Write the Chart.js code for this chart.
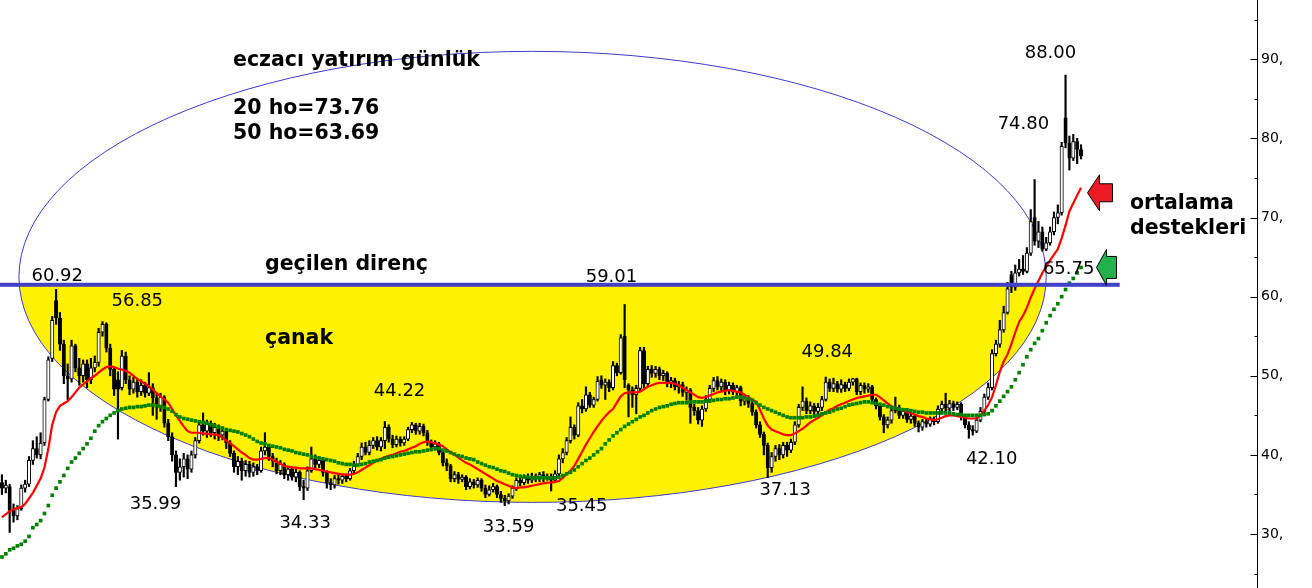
<!DOCTYPE html>
<html>
<head>
<meta charset="utf-8">
<script src="https://cdn.jsdelivr.net/npm/chart.js@4.4.0/dist/chart.umd.min.js"></script>
<style>
  html, body { margin: 0; padding: 0; background: #fff; overflow: hidden; }
  canvas { display: block; }
</style>
</head>
<body>
<canvas id="grafik" width="1312" height="588"></canvas>
<script>
// gunluk mumlar (acilis, yuksek, dusuk, kapanis)
const acilis = [
  36.5, 35.8, 36.0, 33.0, 32.3, 33.2, 35.8, 36.3, 39.3, 40.8,
  40.0, 41.5, 47.0, 52.2, 59.5, 57.3, 54.0, 50.0, 49.6, 53.8,
  51.0, 50.0, 51.5, 49.5, 51.0, 51.7, 55.5, 56.5, 53.5, 50.8,
  49.5, 48.5, 52.5, 49.5, 48.3, 49.2, 48.0, 48.8, 47.8, 48.5,
  47.2, 46.0, 47.3, 44.0, 42.3, 40.0, 37.8, 38.5, 39.5, 38.2,
  40.0, 41.8, 43.8, 43.0, 44.0, 42.8, 43.5, 42.5, 43.0, 41.5,
  40.2, 38.5, 39.2, 38.0, 38.8, 37.8, 38.5, 38.0, 40.5, 41.0,
  39.8, 39.2, 38.0, 38.8, 37.5, 38.2, 37.2, 37.8, 36.0, 35.8,
  38.0, 39.5, 38.8, 39.3, 37.8, 36.5, 36.2, 37.0, 36.8, 37.3,
  37.0, 38.0, 38.8, 39.8, 41.0, 40.3, 41.2, 41.8, 41.0, 41.8,
  43.5, 42.0, 41.3, 42.0, 41.5, 42.0, 43.2, 43.8, 43.0, 43.6,
  42.8, 41.6, 41.0, 41.4, 40.3, 39.0, 38.6, 37.0, 37.5, 36.9,
  37.2, 36.0, 36.6, 36.2, 36.8, 35.8, 35.0, 35.6, 36.0, 35.0,
  34.5, 34.2, 34.8, 35.8, 36.8, 36.5, 37.2, 36.8, 37.3, 37.0,
  37.5, 37.0, 37.3, 36.8, 37.6, 39.5, 40.3, 41.8, 43.5, 42.5,
  46.2, 45.8, 47.6, 46.3, 47.0, 49.5, 48.8, 49.2, 48.5, 51.3,
  50.4, 55.0, 48.8, 48.2, 47.6, 48.4, 53.2, 49.0, 50.8, 50.3,
  50.8, 50.0, 50.3, 49.0, 49.4, 48.6, 48.9, 47.9, 48.2, 46.0,
  45.6, 44.4, 45.8, 47.0, 48.4, 49.4, 48.6, 49.2, 48.2, 48.8,
  48.0, 48.5, 46.8, 47.2, 46.5, 45.4, 43.8, 42.6, 41.2, 38.4,
  39.8, 40.8, 40.0, 41.2, 40.6, 41.6, 43.8, 46.0, 46.8, 45.6,
  46.2, 45.5, 46.0, 47.0, 49.2, 48.4, 49.0, 48.3, 48.9, 48.4,
  49.2, 49.6, 48.0, 48.8, 48.3, 48.6, 47.0, 46.2, 44.8, 43.8,
  44.4, 45.6, 46.0, 45.0, 45.5, 44.5, 44.9, 44.0, 43.5, 44.2,
  43.9, 44.5, 44.2, 45.8, 46.4, 45.9, 46.5, 46.0, 46.4, 44.8,
  43.8, 43.2, 43.0, 44.4, 45.5, 47.3, 48.5, 52.8, 54.0, 55.8,
  58.0, 62.8, 61.2, 63.0, 63.5, 63.2, 65.5, 70.0, 67.0, 68.2,
  66.0, 66.8, 68.2, 70.0, 70.6, 82.6, 79.4, 77.5, 79.6, 78.6
];
const yuksek = [
  37.5, 36.8, 36.3, 33.8, 33.6, 36.2, 36.8, 39.8, 41.8, 42.3,
  42.8, 47.3, 52.4, 57.5, 60.92, 58.0, 54.5, 51.5, 54.5, 54.0,
  52.2, 52.0, 52.0, 52.2, 52.5, 56.0, 56.85, 56.7, 54.0, 51.2,
  50.5, 53.2, 53.0, 50.0, 49.8, 49.6, 49.5, 49.2, 50.4, 49.0,
  47.8, 47.8, 47.5, 44.5, 42.8, 40.5, 39.5, 40.2, 40.0, 40.5,
  42.2, 44.2, 45.3, 44.4, 44.3, 44.0, 43.8, 43.4, 43.2, 41.8,
  40.5, 39.8, 39.6, 39.3, 39.2, 39.0, 38.8, 41.0, 42.8, 41.3,
  40.2, 39.6, 39.3, 39.0, 38.6, 38.5, 38.2, 38.0, 36.8, 38.5,
  41.0, 40.0, 39.8, 39.6, 38.0, 37.0, 37.4, 37.5, 37.6, 37.6,
  38.3, 39.2, 40.2, 41.5, 41.6, 41.8, 42.2, 42.3, 42.2, 44.22,
  43.8, 42.5, 42.4, 42.3, 42.3, 43.5, 44.1, 44.0, 44.0, 43.9,
  43.1, 41.9, 41.8, 41.6, 40.5, 39.5, 38.8, 37.9, 37.8, 37.5,
  37.4, 37.0, 36.9, 37.1, 37.0, 36.2, 36.1, 36.4, 36.2, 35.4,
  34.9, 35.1, 36.1, 37.1, 37.2, 37.5, 37.6, 37.7, 37.6, 37.8,
  37.9, 37.6, 37.6, 38.0, 40.0, 40.8, 42.2, 44.8, 43.8, 46.6,
  47.0, 48.6, 47.9, 47.3, 49.9, 50.0, 49.6, 49.5, 51.8, 51.6,
  55.2, 59.01, 49.0, 48.6, 48.8, 53.6, 53.6, 51.2, 51.3, 51.2,
  51.1, 50.7, 50.5, 49.8, 49.7, 49.3, 49.2, 48.6, 48.4, 46.4,
  46.0, 46.2, 47.5, 48.8, 49.8, 49.9, 49.6, 49.5, 49.2, 49.1,
  48.8, 48.7, 47.6, 47.5, 46.8, 45.7, 44.2, 42.9, 41.5, 40.3,
  41.2, 41.3, 41.6, 41.6, 42.0, 44.2, 46.4, 48.6, 47.2, 46.7,
  46.5, 46.5, 47.4, 49.84, 49.6, 49.7, 49.3, 49.5, 49.2, 49.6,
  49.7, 49.7, 49.1, 49.1, 49.0, 48.8, 47.2, 46.4, 45.1, 44.8,
  46.0, 47.3, 46.3, 45.9, 45.8, 45.3, 45.1, 44.3, 44.5, 44.5,
  44.8, 44.8, 46.2, 46.8, 47.8, 46.9, 46.8, 46.7, 46.6, 45.1,
  44.2, 43.7, 44.8, 46.0, 47.7, 49.1, 53.3, 54.5, 57.0, 58.8,
  61.8, 63.2, 64.0, 64.7, 65.2, 66.2, 71.0, 74.8, 69.5, 68.8,
  67.5, 68.8, 70.7, 71.6, 79.5, 88.0, 80.3, 80.5, 80.0, 79.2
];
const dusuk = [
  35.0, 35.2, 30.2, 31.5, 31.8, 33.0, 35.3, 36.0, 38.8, 39.6,
  39.5, 41.2, 46.8, 51.8, 56.5, 53.2, 49.0, 47.0, 49.2, 50.5,
  48.8, 49.2, 48.5, 49.0, 50.5, 51.2, 55.0, 53.0, 50.0, 47.5,
  42.0, 48.2, 49.0, 47.6, 47.8, 47.3, 47.5, 47.3, 47.5, 45.0,
  44.5, 45.5, 43.5, 41.8, 39.2, 35.99, 36.8, 37.2, 37.0, 37.8,
  39.6, 41.5, 42.5, 42.2, 42.3, 42.0, 41.8, 41.9, 40.8, 39.8,
  37.8, 37.5, 36.8, 37.3, 37.2, 37.3, 37.5, 37.8, 40.0, 39.3,
  38.5, 37.6, 37.5, 37.0, 36.8, 36.8, 36.6, 35.5, 34.33, 35.5,
  37.8, 38.3, 38.4, 37.3, 35.8, 35.6, 35.8, 36.3, 36.4, 36.6,
  36.8, 37.6, 38.5, 39.4, 40.0, 40.0, 40.8, 40.6, 40.5, 40.8,
  41.6, 40.9, 41.0, 41.1, 41.2, 41.8, 42.8, 42.6, 42.6, 42.4,
  41.2, 40.5, 40.6, 40.0, 38.6, 38.0, 36.6, 36.6, 36.4, 36.6,
  35.6, 35.7, 35.8, 35.9, 35.4, 34.6, 34.8, 35.3, 34.6, 34.0,
  33.59, 33.8, 34.5, 35.5, 36.1, 36.2, 36.4, 36.5, 36.6, 36.6,
  36.6, 36.8, 35.45, 36.5, 37.3, 39.0, 40.0, 41.5, 42.0, 42.3,
  45.3, 45.5, 46.0, 46.0, 46.8, 48.4, 47.0, 48.0, 48.2, 50.0,
  50.2, 48.5, 44.8, 46.0, 45.2, 48.0, 48.5, 48.6, 49.8, 49.8,
  49.5, 49.4, 48.6, 48.5, 48.2, 47.8, 47.4, 46.9, 44.0, 45.0,
  43.9, 43.6, 45.5, 46.6, 48.0, 48.2, 48.0, 47.6, 47.7, 47.6,
  47.5, 46.2, 46.3, 46.0, 45.0, 43.4, 42.2, 40.0, 37.13, 37.8,
  39.2, 39.4, 39.6, 39.8, 40.3, 41.3, 43.5, 45.6, 45.2, 45.2,
  44.8, 44.6, 45.6, 46.8, 48.0, 48.0, 47.9, 47.9, 48.0, 48.1,
  48.8, 47.6, 47.6, 47.8, 47.9, 46.6, 45.8, 44.4, 42.8, 43.4,
  44.0, 45.3, 44.6, 44.6, 44.1, 44.0, 43.6, 42.9, 43.1, 43.5,
  43.6, 43.8, 44.0, 45.4, 45.5, 45.5, 45.6, 45.7, 44.4, 43.4,
  42.1, 42.5, 42.8, 44.2, 45.2, 47.0, 48.2, 52.5, 53.6, 55.5,
  57.8, 60.5, 60.8, 62.6, 62.8, 63.0, 65.2, 66.5, 66.2, 65.75,
  65.8, 66.5, 67.8, 69.2, 70.3, 78.8, 76.0, 77.2, 76.8, 77.4
];
const kapanis = [
  35.8, 36.2, 33.0, 32.3, 33.2, 35.8, 36.3, 39.3, 40.8, 40.0,
  41.5, 47.0, 52.0, 57.0, 57.3, 54.0, 50.0, 49.6, 53.8, 51.0,
  50.0, 51.5, 49.5, 51.0, 51.7, 55.5, 56.5, 53.5, 50.8, 48.3,
  48.3, 52.5, 49.5, 48.3, 49.2, 48.0, 48.8, 47.8, 48.5, 47.2,
  46.0, 47.3, 44.0, 42.3, 40.0, 37.8, 38.5, 39.5, 38.2, 40.0,
  41.8, 43.8, 43.0, 44.0, 42.8, 43.5, 42.5, 43.0, 41.5, 40.2,
  38.5, 39.2, 38.0, 38.8, 37.8, 38.5, 38.0, 40.5, 41.0, 39.8,
  39.2, 38.0, 38.8, 37.5, 38.2, 37.2, 37.8, 36.0, 35.8, 38.0,
  39.5, 38.8, 39.3, 37.8, 36.5, 36.2, 37.0, 36.8, 37.3, 37.0,
  38.0, 38.8, 39.8, 41.0, 40.3, 41.2, 41.8, 41.0, 41.8, 43.5,
  42.0, 41.3, 42.0, 41.5, 42.0, 43.2, 43.8, 43.0, 43.6, 42.8,
  41.6, 41.0, 41.4, 40.3, 39.0, 38.6, 37.0, 37.5, 36.9, 37.2,
  36.0, 36.6, 36.2, 36.8, 35.8, 35.0, 35.6, 36.0, 35.0, 34.5,
  34.2, 34.8, 35.8, 36.8, 36.5, 37.2, 36.8, 37.3, 37.0, 37.5,
  37.0, 37.3, 36.8, 37.6, 39.5, 40.3, 41.8, 43.5, 42.5, 46.2,
  45.8, 47.6, 46.3, 47.0, 49.3, 48.8, 49.2, 48.5, 51.3, 50.4,
  54.8, 49.5, 48.2, 47.6, 48.4, 53.2, 49.0, 50.8, 50.3, 50.8,
  50.0, 50.3, 49.0, 49.4, 48.6, 48.9, 47.9, 48.2, 46.0, 45.6,
  44.4, 45.8, 47.0, 48.4, 49.4, 48.6, 49.2, 48.2, 48.8, 48.0,
  48.5, 46.8, 47.2, 46.5, 45.4, 43.8, 42.6, 41.2, 38.4, 39.8,
  40.8, 40.0, 41.2, 40.6, 41.6, 43.8, 46.0, 46.8, 45.6, 46.2,
  45.5, 46.0, 47.0, 49.2, 48.4, 49.0, 48.3, 48.9, 48.4, 49.2,
  49.6, 48.0, 48.8, 48.3, 48.6, 47.0, 46.2, 44.8, 43.8, 44.4,
  45.6, 46.0, 45.0, 45.5, 44.5, 44.9, 44.0, 43.5, 44.2, 43.9,
  44.5, 44.2, 45.8, 46.4, 45.9, 46.5, 46.0, 46.4, 44.8, 43.8,
  43.2, 43.0, 44.4, 45.5, 47.3, 48.5, 52.8, 54.0, 55.8, 58.0,
  61.0, 61.2, 63.0, 63.5, 63.2, 65.5, 69.5, 67.0, 68.2, 66.0,
  66.8, 68.2, 70.0, 70.6, 79.0, 79.4, 77.5, 79.6, 78.6, 77.8
];
// 20 ve 50 gunluk hareketli ortalamalar
const ort20 = [
  32.1, 32.5, 32.9, 33.1, 33.3, 33.4, 33.8, 34.5, 35.2, 36.1,
  37.0, 38.4, 40.8, 43.8, 45.4, 46.2, 46.5, 46.8, 47.3, 47.9,
  48.5, 48.9, 49.3, 49.7, 50.0, 50.4, 50.8, 51.1, 51.2, 51.1,
  50.9, 50.8, 50.6, 50.4, 50.0, 49.6, 49.3, 49.0, 48.7, 48.3,
  47.8, 47.4, 47.0, 46.6, 45.8, 45.0, 44.3, 43.6, 43.0, 42.8,
  42.8, 42.8, 42.7, 42.7, 42.6, 42.6, 42.5, 42.2, 41.8, 41.5,
  41.1, 40.7, 40.3, 40.0, 39.6, 39.4, 39.4, 39.5, 39.6, 39.6,
  39.4, 39.1, 38.9, 38.6, 38.5, 38.4, 38.4, 38.3, 38.3, 38.3,
  38.3, 38.2, 38.1, 38.0, 37.9, 37.8, 37.7, 37.6, 37.5, 37.5,
  37.5, 37.6, 37.8, 38.1, 38.4, 38.7, 39.0, 39.3, 39.5, 39.7,
  39.9, 40.0, 40.2, 40.4, 40.5, 40.7, 40.9, 41.1, 41.4, 41.6,
  41.7, 41.6, 41.5, 41.3, 41.1, 40.7, 40.3, 40.0, 39.7, 39.3,
  39.0, 38.8, 38.5, 38.2, 37.9, 37.6, 37.3, 37.0, 36.7, 36.5,
  36.3, 36.1, 35.9, 35.8, 35.9, 35.9, 36.0, 36.1, 36.2, 36.3,
  36.4, 36.5, 36.5, 36.6, 36.7, 37.1, 37.6, 38.0, 38.6, 39.5,
  40.4, 41.3, 42.1, 42.9, 43.6, 44.3, 44.9, 45.4, 45.8, 46.6,
  47.4, 47.8, 47.9, 47.9, 47.9, 48.0, 48.3, 48.6, 48.8, 49.0,
  49.1, 49.1, 49.1, 49.1, 49.0, 48.8, 48.5, 48.2, 47.9, 47.6,
  47.3, 47.2, 47.3, 47.5, 47.7, 47.9, 48.0, 48.1, 48.2, 48.1,
  48.0, 47.9, 47.6, 47.3, 47.0, 46.7, 45.7, 44.6, 43.7, 43.2,
  43.0, 42.8, 42.6, 42.5, 42.5, 42.7, 43.0, 43.3, 43.7, 44.1,
  44.4, 44.7, 45.0, 45.4, 45.7, 45.9, 46.2, 46.4, 46.6, 46.8,
  47.0, 47.2, 47.3, 47.4, 47.5, 47.6, 47.6, 47.3, 46.9, 46.5,
  46.1, 45.9, 45.7, 45.6, 45.4, 45.3, 45.1, 44.9, 44.8, 44.6,
  44.5, 44.4, 44.5, 44.7, 44.9, 45.0, 45.0, 44.9, 44.8, 44.7,
  44.6, 44.6, 44.6, 45.0, 45.6, 46.3, 47.3, 48.8, 50.5, 51.8,
  52.7, 54.0, 55.5, 56.8, 57.6, 58.6, 59.9, 61.0, 62.0, 63.0,
  63.8, 64.6, 65.3, 66.0, 67.4, 69.0, 70.8, 71.8, 72.8, 73.76
];
const ort50 = [
  27.1, 27.5, 28.0, 28.2, 28.5, 28.7, 29.1, 29.7, 30.8, 31.2,
  31.7, 32.6, 33.6, 34.9, 35.8, 36.6, 37.4, 38.3, 39.1, 39.6,
  40.2, 40.8, 41.4, 42.1, 43.0, 43.7, 44.2, 44.6, 45.0, 45.3,
  45.6, 45.8, 45.9, 46.0, 46.0, 46.1, 46.1, 46.2, 46.3, 46.3,
  46.2, 46.1, 46.0, 45.8, 45.5, 45.1, 44.8, 44.6, 44.5, 44.4,
  44.3, 44.2, 44.1, 44.0, 43.8, 43.7, 43.5, 43.4, 43.2, 43.1,
  43.0, 42.9, 42.7, 42.5, 42.3, 42.0, 41.7, 41.5, 41.4, 41.2,
  41.1, 41.0, 40.9, 40.7, 40.6, 40.5, 40.3, 40.2, 40.1, 40.0,
  39.8, 39.7, 39.6, 39.5, 39.4, 39.3, 39.2, 39.0, 38.9, 38.8,
  38.8, 38.7, 38.7, 38.8, 38.9, 39.1, 39.2, 39.3, 39.4, 39.6,
  39.7, 39.8, 39.9, 40.0, 40.1, 40.2, 40.3, 40.4, 40.4, 40.5,
  40.6, 40.7, 40.8, 40.8, 40.6, 40.5, 40.3, 40.1, 39.9, 39.8,
  39.6, 39.5, 39.4, 39.1, 38.9, 38.7, 38.5, 38.4, 38.2, 38.0,
  37.9, 37.7, 37.5, 37.4, 37.3, 37.2, 37.2, 37.1, 37.1, 37.1,
  37.1, 37.1, 37.1, 37.1, 37.2, 37.4, 37.6, 37.8, 38.1, 38.5,
  38.9, 39.3, 39.6, 40.0, 40.4, 40.8, 41.4, 41.9, 42.4, 42.8,
  43.2, 43.6, 43.9, 44.2, 44.5, 44.8, 45.0, 45.3, 45.6, 45.8,
  46.0, 46.1, 46.2, 46.4, 46.5, 46.6, 46.6, 46.6, 46.7, 46.7,
  46.7, 46.7, 46.8, 46.8, 46.9, 47.0, 47.0, 47.1, 47.1, 47.2,
  47.3, 47.3, 47.2, 47.1, 46.9, 46.6, 46.3, 46.0, 45.8, 45.6,
  45.4, 45.2, 45.0, 44.8, 44.7, 44.7, 44.7, 44.7, 44.8, 44.8,
  44.9, 45.0, 45.2, 45.3, 45.4, 45.6, 45.8, 45.9, 46.1, 46.3,
  46.4, 46.5, 46.6, 46.7, 46.7, 46.6, 46.5, 46.4, 46.3, 46.1,
  46.0, 45.9, 45.8, 45.7, 45.7, 45.6, 45.5, 45.4, 45.4, 45.3,
  45.3, 45.3, 45.3, 45.3, 45.3, 45.3, 45.2, 45.1, 45.1, 45.0,
  45.0, 45.0, 45.0, 45.0, 45.1, 45.2, 45.6, 46.2, 46.8, 47.4,
  48.0, 48.6, 49.5, 50.4, 51.4, 52.4, 53.3, 54.1, 54.7, 55.7,
  56.7, 57.6, 58.4, 59.1, 60.0, 60.9, 61.7, 62.3, 63.0, 63.69
];
const bosGun = 45; // son mumdan sonra bos kalan gun sayisi
const gunler = Array.from({ length: kapanis.length + bosGun }, (_, i) => i + 1);

const eksenDegerleri = [30, 40, 50, 60, 70, 80, 90];
const araCizgiler = [25, 35, 45, 55, 65, 75, 85, 95];
const direncSeviyesi = 61.5;

// tepe/dip notlari (gun sirasi, fiyat)
const notlar = [
  { metin: '60.92', gun: 14.3, fiyat: 62.6 },
  { metin: '56.85', gun: 35.0, fiyat: 59.35 },
  { metin: '35.99', gun: 39.7, fiyat: 33.7 },
  { metin: '34.33', gun: 78.4, fiyat: 31.3 },
  { metin: '44.22', gun: 102.8, fiyat: 48.0 },
  { metin: '33.59', gun: 131.0, fiyat: 30.8 },
  { metin: '35.45', gun: 149.9, fiyat: 33.45 },
  { metin: '59.01', gun: 157.6, fiyat: 62.5 },
  { metin: '37.13', gun: 202.5, fiyat: 35.5 },
  { metin: '49.84', gun: 213.4, fiyat: 53.0 },
  { metin: '42.10', gun: 255.9, fiyat: 39.4 },
  { metin: '74.80', gun: 264.1, fiyat: 81.8 },
  { metin: '88.00', gun: 271.1, fiyat: 90.7 },
  { metin: '65.75', gun: 275.8, fiyat: 63.4 }
];

const basliklar = [
  { metin: 'eczacı yatırım günlük', x: 233, y: 66 },
  { metin: '20 ho=73.76', x: 233, y: 114 },
  { metin: '50 ho=63.69', x: 233, y: 139 },
  { metin: 'geçilen direnç', x: 265, y: 270 },
  { metin: 'çanak', x: 265, y: 344 },
  { metin: 'ortalama', x: 1130, y: 209 },
  { metin: 'destekleri', x: 1130, y: 234 }
];

// canak elipsi (gun ve fiyat cinsinden)
const canak = { gun: 137.2, fiyat: 62.5, yariGun: 132.8, yariFiyat: 28.5 };

function ok(ctx, x, y, renk, basYari, govdeYari, basBoy, govdeBoy) {
  ctx.beginPath();
  ctx.moveTo(x, y);
  ctx.lineTo(x + basBoy, y - basYari);
  ctx.lineTo(x + basBoy, y - govdeYari);
  ctx.lineTo(x + basBoy + govdeBoy, y - govdeYari);
  ctx.lineTo(x + basBoy + govdeBoy, y + govdeYari);
  ctx.lineTo(x + basBoy, y + govdeYari);
  ctx.lineTo(x + basBoy, y + basYari);
  ctx.closePath();
  ctx.fillStyle = renk;
  ctx.fill();
  ctx.lineWidth = 1;
  ctx.strokeStyle = '#000';
  ctx.stroke();
}

const cizimler = {
  id: 'cizimler',
  beforeDatasetsDraw(chart) {
    const { ctx, chartArea, scales: { x, y } } = chart;
    const cx = x.getPixelForValue(canak.gun);
    const cy = y.getPixelForValue(canak.fiyat);
    const rx = x.getPixelForValue(canak.gun + canak.yariGun) - cx;
    const ry = cy - y.getPixelForValue(canak.fiyat + canak.yariFiyat);
    const cizgiY = y.getPixelForValue(direncSeviyesi);

    ctx.save();
    ctx.beginPath();
    ctx.rect(chartArea.left, cizgiY, chartArea.right - chartArea.left, chartArea.bottom - cizgiY);
    ctx.clip();
    ctx.beginPath();
    ctx.ellipse(cx, cy, rx, ry, 0, 0, Math.PI * 2);
    ctx.fillStyle = '#fff200';
    ctx.fill();
    ctx.restore();

    ctx.save();
    ctx.beginPath();
    ctx.ellipse(cx, cy, rx, ry, 0, 0, Math.PI * 2);
    ctx.lineWidth = 1;
    ctx.strokeStyle = '#3b3bd0';
    ctx.stroke();
    ctx.restore();
  },
  afterDatasetsDraw(chart) {
    const { ctx, chartArea, scales: { x, y } } = chart;
    const son = kapanis.length - 1;

    // gecilen direnc cizgisi
    const cizgiY = y.getPixelForValue(direncSeviyesi);
    ctx.save();
    ctx.fillStyle = '#4040c8';
    ctx.fillRect(chartArea.left, cizgiY - 2, x.getPixelForValue(son + 10) - chartArea.left, 4);

    // ortalama oklari
    ok(ctx, x.getPixelForValue(son) + 6.5, y.getPixelForValue(ort20[son]) + 5, '#ed1c24', 18, 9, 12, 13);
    ok(ctx, x.getPixelForValue(son) + 15.5, y.getPixelForValue(ort50[son]), '#22b14c', 18, 11, 10, 10);

    // tepe/dip notlari
    ctx.font = '18px "DejaVu Sans"';
    ctx.fillStyle = '#000';
    ctx.textAlign = 'center';
    ctx.textBaseline = 'middle';
    notlar.forEach((n) => {
      ctx.fillText(n.metin, x.getPixelForValue(n.gun), y.getPixelForValue(n.fiyat));
    });

    ctx.font = 'bold 20.5px "DejaVu Sans"';
    ctx.textAlign = 'left';
    ctx.textBaseline = 'alphabetic';
    basliklar.forEach((b) => {
      ctx.fillText(b.metin, b.x, b.y);
    });
    ctx.restore();
  },
  afterDraw(chart) {
    const { ctx, chartArea, scales: { y } } = chart;
    const eksenX = Math.round(chartArea.right) + 0.5;
    ctx.save();
    ctx.strokeStyle = '#000';
    ctx.lineWidth = 1;
    ctx.beginPath();
    ctx.moveTo(eksenX, 0);
    ctx.lineTo(eksenX, chart.height);
    eksenDegerleri.forEach((v) => {
      const py = Math.round(y.getPixelForValue(v)) + 0.5;
      ctx.moveTo(eksenX - 7, py);
      ctx.lineTo(eksenX, py);
    });
    araCizgiler.forEach((v) => {
      const py = Math.round(y.getPixelForValue(v)) + 0.5;
      ctx.moveTo(eksenX - 3, py);
      ctx.lineTo(eksenX, py);
    });
    ctx.stroke();
    ctx.restore();
  }
};

const ctx = document.getElementById('grafik').getContext('2d');
const grafik = new Chart(ctx, {
  type: 'bar',
  data: {
    labels: gunler,
    datasets: [
      {
        type: 'bar',
        label: 'fitil',
        data: dusuk.map((l, i) => [l, yuksek[i]]),
        backgroundColor: '#000',
        barThickness: 1.5,
        grouped: false,
        order: 4
      },
      {
        type: 'bar',
        label: 'govde',
        data: acilis.map((o, i) => [o, kapanis[i]]),
        backgroundColor: acilis.map((o, i) => (kapanis[i] > o ? '#fff' : '#000')),
        borderColor: '#000',
        borderWidth: 1,
        borderSkipped: false,
        barThickness: 3.4,
        minBarLength: 1,
        grouped: false,
        order: 3
      },
      {
        type: 'line',
        label: '20 ho',
        data: ort20,
        borderColor: '#ff0000',
        borderWidth: 2.2,
        pointRadius: 0,
        tension: 0,
        order: 2
      },
      {
        type: 'line',
        label: '50 ho',
        data: ort50,
        showLine: false,
        pointStyle: 'rect',
        pointRadius: 2.6,
        pointBorderWidth: 0,
        pointBackgroundColor: '#008000',
        order: 1
      }
    ]
  },
  options: {
    responsive: false,
    animation: false,
    devicePixelRatio: 1,
    events: [],
    layout: { padding: 0, autoPadding: false },
    plugins: {
      legend: { display: false },
      tooltip: { enabled: false }
    },
    scales: {
      x: {
        display: false,
        offset: true
      },
      y: {
        position: 'right',
        min: 23.18,
        max: 97.49,
        grid: { display: false, drawTicks: false },
        border: { display: false },
        afterBuildTicks: (s) => {
          s.ticks = eksenDegerleri.map((v) => ({ value: v }));
        },
        afterFit: (s) => {
          s.width = 55;
          s.paddingTop = 0;
          s.paddingBottom = 0;
        },
        ticks: {
          padding: 4,
          color: '#000',
          font: { family: 'DejaVu Sans', size: 14 },
          callback: (v) => v + ','
        }
      }
    }
  },
  plugins: [cizimler]
});
</script>
</body>
</html>
